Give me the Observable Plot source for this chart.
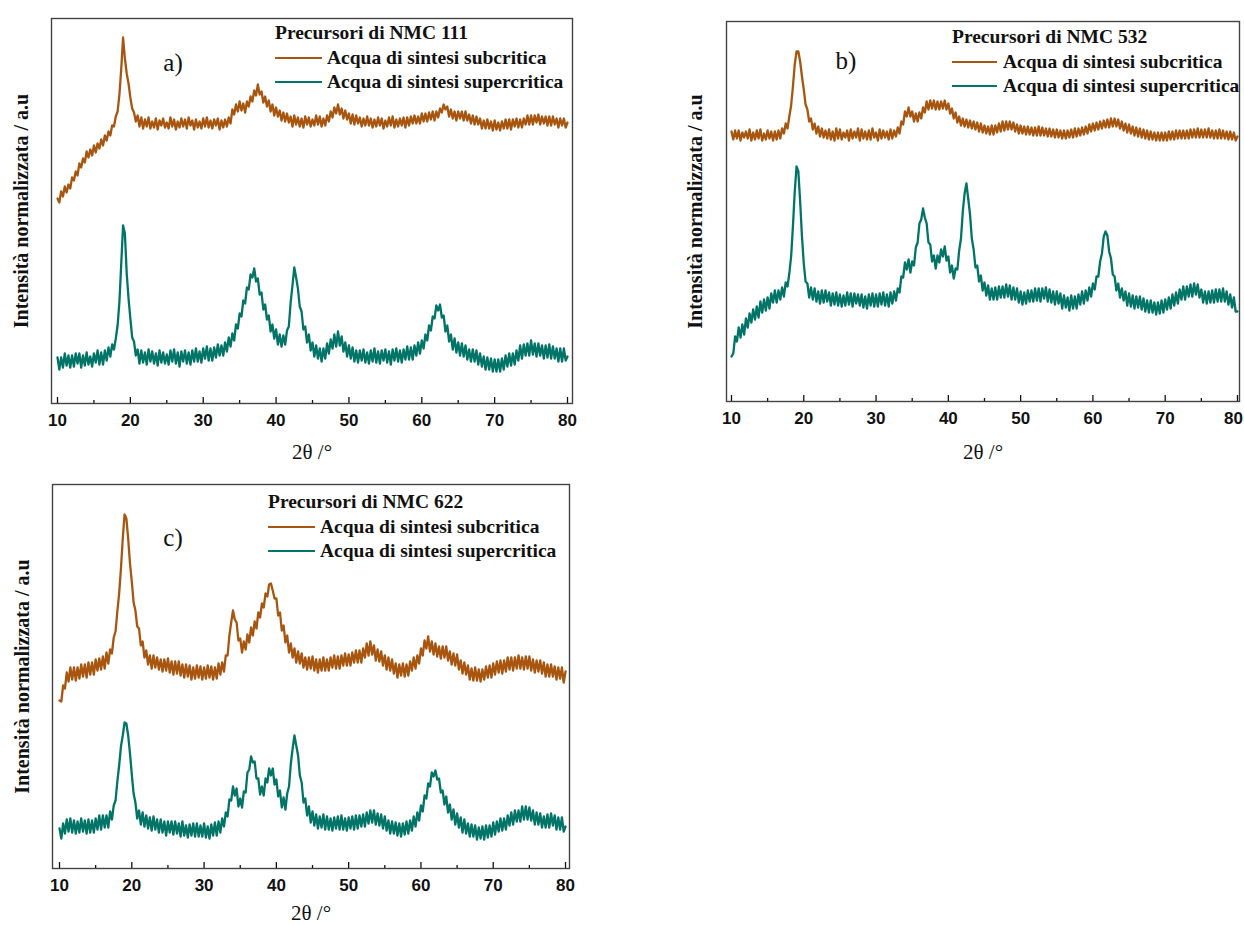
<!DOCTYPE html>
<html>
<head>
<meta charset="utf-8">
<script src="https://cdn.jsdelivr.net/npm/d3@7"></script>
<script src="https://cdn.jsdelivr.net/npm/@observablehq/plot@0.6"></script>
<style>
  html, body { margin: 0; padding: 0; background: #fff; }
  body { width: 1244px; height: 925px; position: relative; overflow: hidden; }
  .panel { position: absolute; }
  .legend {
    position: absolute; white-space: nowrap; color: #111;
    font-family: "Liberation Serif", "Times New Roman", serif;
    font-weight: bold; font-size: 19.5px;
  }
  .legend .row { display: flex; align-items: center; height: 24.5px; }
  .legend .sw { display: inline-block; height: 0; border-top: 2px solid; }
</style>
</head>
<body>
<script>
// Diffractograms sampled from 10° to 80° (2θ) every 0.25°; intensities in arbitrary units.
const twoThetaStart = 10, twoThetaStep = 0.25;

// NMC 111 precursors
const nmc111Sub = [
  205,201,212,207, 217,211,219,215, 226,223,232,228, 240,236,245,241, 252,246,254,248,
  258,251,260,255, 264,258,268,263, 272,268,278,277, 287,292,309,335, 366,345,330,320,
  306,295,291,282, 288,277,286,275, 284,277,286,275, 282,276,285,274, 283,278,285,276,
  281,275,286,277, 284,274,282,276, 285,277,284,275, 286,278,283,274, 284,276,282,275,
  285,277,286,276, 283,275,284,278, 285,274,283,276, 284,277,286,280, 294,289,299,292,
  302,293,300,291, 302,297,307,302, 313,308,319,309, 312,301,307,297, 303,292,299,288,
  296,287,293,283, 291,282,290,281, 287,277,288,279, 286,277,285,276, 287,279,286,277,
  284,278,288,279, 287,277,285,278, 288,282,292,286, 296,290,299,289, 295,285,293,284,
  290,280,289,279, 288,280,286,277, 285,278,287,278, 285,276,284,277, 286,278,285,275,
  283,277,286,278, 287,276,284,277, 285,278,286,276, 286,278,287,280, 288,280,287,280,
  290,282,290,282, 291,284,292,283, 292,286,295,291, 299,294,297,287, 294,285,292,283,
  292,285,292,283, 292,283,289,280, 288,279,287,279, 285,275,283,275, 284,275,282,273,
  283,274,281,273, 282,275,284,275, 284,274,284,277, 285,276,284,276, 285,279,288,279,
  288,279,288,281, 289,279,287,280, 287,278,287,278, 287,279,285,276, 285,278,285,276,
  281
];
const nmc111Sup = [
  46,34,46,36, 50,38,48,36, 48,37,50,40, 50,36,48,38, 51,39,47,37,
  50,41,53,39, 51,39,53,43, 56,47,59,54, 65,78,102,140, 178,170,130,105,
  85,66,62,48, 54,40,53,41, 51,39,54,42, 52,40,50,38, 53,41,51,40,
  49,39,53,42, 54,40,51,37, 52,42,53,40, 51,39,53,42, 55,42,52,41,
  55,45,57,43, 55,43,56,46, 59,48,58,48, 61,52,66,57, 70,63,79,75,
  90,87,103,100, 116,114,129,126, 135,122,125,109, 111,94,99,84, 88,72,79,65,
  74,59,69,57, 68,59,73,77, 101,118,136,126, 115,97,92,74, 77,61,69,53,
  61,47,58,45, 55,42,55,45, 60,50,64,55, 69,57,72,58, 67,52,61,47,
  58,45,56,42, 53,41,53,43, 54,41,51,40, 53,42,55,41, 52,40,53,43,
  54,41,52,39, 54,43,55,42, 53,41,54,44, 57,44,56,44, 58,48,61,50,
  63,55,69,63, 78,73,87,85, 98,93,99,86, 88,72,78,62, 69,54,65,51,
  61,48,60,47, 58,44,54,42, 54,42,53,39, 50,37,47,34, 46,34,45,32,
  44,32,44,32, 45,34,48,37, 50,38,50,39, 53,43,58,45, 59,48,60,48,
  63,49,60,47, 60,48,58,45, 58,46,59,45, 57,45,55,42, 55,42,55,43,
  47
];

// NMC 532 precursors
const nmc532Sub = [
  270,262,271,263, 271,261,269,264, 270,263,272,261, 269,262,271,263, 272,261,268,262,
  271,263,270,261, 270,262,271,263, 273,268,278,273, 285,296,315,337, 350,350,340,325,
  312,297,292,280, 283,272,278,268, 275,265,273,264, 271,263,272,262, 270,261,273,263,
  272,262,269,264, 271,261,272,263, 270,264,273,261, 272,263,270,262, 271,262,273,264,
  269,261,272,263, 271,264,270,262, 272,263,271,265, 274,268,280,277, 290,285,294,285,
  290,280,288,280, 289,283,294,289, 300,292,301,293, 301,292,300,292, 300,293,301,292,
  298,288,293,283, 289,279,285,276, 283,275,282,274, 281,273,280,272, 279,270,278,269,
  276,268,275,267, 276,267,276,269, 278,270,280,271, 280,272,280,272, 279,270,277,268,
  276,268,275,267, 275,267,274,266, 274,266,275,266, 274,266,273,265, 273,265,272,264,
  272,264,271,263, 271,263,271,264, 272,264,273,265, 273,266,274,267, 275,268,277,270,
  278,271,279,272, 280,273,281,274, 282,274,283,275, 283,275,282,273, 280,271,278,269,
  277,268,275,266, 274,265,273,264, 272,263,271,262, 270,262,269,261, 269,261,269,261,
  269,261,270,262, 270,262,271,263, 271,263,271,263, 271,263,272,264, 272,264,273,264,
  272,264,272,264, 273,264,271,263, 271,263,272,263, 271,263,270,262, 270,262,269,261,
  265
];
const nmc532Sup = [
  45,48,65,60, 74,64,77,67, 83,74,88,79, 92,82,95,84, 100,89,102,91,
  104,93,108,99, 111,99,111,102, 114,105,119,115, 128,145,175,210, 235,230,200,165,
  138,120,118,104, 114,102,113,100, 110,98,111,99, 111,100,109,96, 108,97,109,96,
  107,95,106,96, 109,97,108,95, 108,98,107,96, 107,94,105,93, 107,96,108,95,
  107,95,108,97, 109,96,107,95, 109,98,110,101, 113,109,125,124, 139,132,142,129,
  140,136,154,159, 178,182,193,184, 178,159,157,140, 146,133,146,139, 152,145,155,141,
  145,129,136,123, 133,132,151,163, 190,208,218,203, 187,163,152,134, 136,120,126,111,
  119,106,116,102, 113,102,114,102, 115,104,115,104, 117,105,116,102, 114,102,113,99,
  110,97,109,98, 111,100,111,100, 113,101,113,100, 113,103,114,100, 112,99,110,97,
  110,98,108,93, 106,94,104,91, 106,93,105,93, 107,97,110,98, 111,101,114,105,
  118,112,125,125, 140,148,165,170, 166,150,143,127, 125,111,118,104, 113,101,110,96,
  108,95,106,93, 105,94,105,92, 103,90,101,89, 101,89,99,87, 99,88,101,89,
  102,92,104,93, 107,96,109,98, 112,102,115,102, 115,105,117,105, 118,107,117,104,
  112,99,110,98, 110,99,111,99, 112,100,112,100, 113,100,110,97, 107,94,104,90,
  90
];

// NMC 622 precursors
const nmc622Sub = [
  168,167,183,180, 196,187,201,189, 201,188,201,190, 204,192,204,191, 206,194,206,194,
  209,198,210,199, 212,200,216,205, 219,215,231,237, 257,275,300,330, 354,350,330,305,
  287,266,258,242, 240,223,227,211, 218,204,213,200, 213,201,211,199, 209,197,209,198,
  210,196,207,194, 207,195,207,193, 204,191,204,192, 203,189,201,190, 203,191,202,189,
  201,190,203,191, 202,189,201,190, 205,194,206,197, 213,213,233,246, 258,249,246,228,
  230,216,227,219, 234,226,241,233, 247,240,256,251, 265,261,275,272, 284,285,278,270,
  270,253,256,238, 243,226,233,216, 225,211,220,206, 217,205,215,201, 211,199,211,200,
  212,198,209,196, 209,198,211,198, 209,198,211,201, 213,200,212,200, 213,203,215,203,
  214,203,216,206, 218,206,218,206, 220,211,225,213, 227,214,223,208, 219,207,217,203,
  213,199,211,198, 209,195,205,191, 204,193,205,192, 204,193,207,198, 211,200,213,205,
  220,213,228,220, 232,217,227,214, 225,212,222,210, 222,211,222,208, 217,204,215,203,
  214,199,208,195, 206,194,203,189, 200,188,201,188, 199,187,199,189, 202,191,203,191,
  205,194,207,196, 208,195,208,197, 211,199,211,198, 211,200,213,200, 211,199,212,200,
  212,198,209,196, 208,197,208,195, 206,192,204,192, 204,192,202,189, 201,190,201,186,
  197
];
const nmc622Sup = [
  40,30,45,35, 49,37,50,36, 48,35,47,36, 50,37,48,35, 49,36,48,36,
  50,39,53,39, 53,41,53,41, 57,49,63,68, 87,103,122,133, 146,145,133,115,
  94,75,66,50, 58,44,56,42, 53,40,51,38, 52,39,49,36, 49,36,47,33,
  47,36,47,34, 47,35,45,32, 47,33,43,31, 44,33,45,32, 45,32,43,32,
  45,31,42,30, 44,33,46,33, 47,36,50,42, 56,52,69,68, 82,73,80,62,
  70,61,77,76, 96,99,112,106, 107,90,90,74, 82,73,90,86, 100,93,100,84,
  89,72,78,61, 71,59,75,82, 105,120,133,123, 113,93,86,66, 70,53,62,46,
  57,43,54,40, 52,41,54,39, 52,39,50,38, 51,40,52,39, 53,39,50,38,
  51,40,52,39, 53,40,53,42, 54,42,56,45, 58,46,58,44, 55,43,54,40,
  52,38,48,35, 47,35,46,33, 45,32,45,34, 47,35,48,38, 52,42,56,48,
  63,57,73,70, 85,82,96,92, 98,89,90,76, 78,64,72,56, 64,49,59,44,
  55,41,51,36, 49,35,45,32, 44,32,43,29, 41,30,42,29, 43,31,43,32,
  46,34,47,37, 50,38,50,39, 53,43,56,44, 58,47,58,47, 62,49,62,49,
  61,48,58,44, 56,44,55,41, 52,41,54,41, 55,43,53,39, 51,39,51,37,
  42
];

const majorTicks = [10, 20, 30, 40, 50, 60, 70, 80];
const minorTicks = [15, 25, 35, 45, 55, 65, 75];
const seriesLabels = ["Acqua di sintesi subcritica", "Acqua di sintesi supercritica"];
const seriesColors = ["#a8560f", "#007467"];
const yTitle = "Intensità normalizzata / a.u";
const xTitle = "2θ /°";

const SERIF = "'Liberation Serif', 'Times New Roman', serif";
const SANS = "'Liberation Sans', Arial, sans-serif";

const panels = [
  {
    tag: "a)", title: "Precursori di NMC 111", sub: nmc111Sub, sup: nmc111Sup,
    left: 0, top: 0, width: 600, height: 440,
    margin: {top: 18, right: 28, bottom: 37, left: 51},
    xDomain: [9.176, 80.686], yMax: 385,
    tagAt: [121.5, 44], xTitleDy: 49, yTitleDx: -30, lastLabelDx: 0,
    legend: {left: 275, top: 21, swatch: 47, gap: 5}
  },
  {
    tag: "b)", title: "Precursori di NMC 532", sub: nmc532Sub, sup: nmc532Sup,
    left: 680, top: 0, width: 564, height: 440,
    margin: {top: 21, right: 5, bottom: 39, left: 46},
    xDomain: [9.31, 80.28], yMax: 380,
    tagAt: [119.5, 39], xTitleDy: 51, yTitleDx: -31, lastLabelDx: -4,
    legend: {left: 952, top: 25, swatch: 45, gap: 6}
  },
  {
    tag: "c)", title: "Precursori di NMC 622", sub: nmc622Sub, sup: nmc622Sup,
    left: 0, top: 450, width: 600, height: 475,
    margin: {top: 34, right: 31, bottom: 57, left: 52},
    xDomain: [9.03, 80.55], yMax: 384,
    tagAt: [120.5, 53], xTitleDy: 45, yTitleDx: -30, lastLabelDx: 0,
    legend: {left: 268, top: 490, swatch: 47, gap: 5}
  }
];

const toRows = values => values.map((v, i) => ({theta: twoThetaStart + i * twoThetaStep, intensity: v}));

const tickFont = {fontSize: 17, fontWeight: "bold", fontFamily: SANS};

for (const p of panels) {
  const innerTicks = majorTicks.slice(0, -1);
  const lastTick = majorTicks.slice(-1);
  const chart = Plot.plot({
    width: p.width,
    height: p.height,
    marginTop: p.margin.top,
    marginRight: p.margin.right,
    marginBottom: p.margin.bottom,
    marginLeft: p.margin.left,
    style: {background: "transparent", overflow: "visible", color: "#111"},
    x: {domain: p.xDomain},
    y: {domain: [0, p.yMax], axis: null},
    marks: [
      Plot.line(toRows(p.sub), {x: "theta", y: "intensity", stroke: seriesColors[0], strokeWidth: 2.3}),
      Plot.line(toRows(p.sup), {x: "theta", y: "intensity", stroke: seriesColors[1], strokeWidth: 2.3}),
      Plot.frame({stroke: "#444", strokeWidth: 1.4}),
      Plot.axisX({
        ticks: innerTicks, tickSize: -6, tickPadding: 16, label: null,
        tickFormat: d => String(d), ...tickFont, strokeWidth: 1.3
      }),
      // last major tick: its label sits against the right edge of the page on panel b
      Plot.axisX({ticks: lastTick, tickSize: -6, label: null, tickFormat: () => "", strokeWidth: 1.3}),
      Plot.axisX({
        ticks: lastTick, tickSize: 0, tickPadding: 10, label: null,
        tickFormat: d => String(d), dx: p.lastLabelDx, ...tickFont
      }),
      Plot.axisX({
        ticks: minorTicks, tickSize: -3, label: null, tickFormat: () => "", strokeWidth: 1.3
      }),
      Plot.text([xTitle], {
        text: d => d, frameAnchor: "bottom", dy: p.xTitleDy,
        textAnchor: "middle", lineAnchor: "middle",
        fontSize: 21, fontFamily: SERIF, fill: "#111"
      }),
      Plot.text([yTitle], {
        text: d => d, frameAnchor: "left", dx: p.yTitleDx, rotate: -90,
        textAnchor: "middle", lineAnchor: "middle",
        fontSize: 20, fontWeight: "bold", fontFamily: SERIF, fill: "#111"
      }),
      Plot.text([p.tag], {
        text: d => d, frameAnchor: "top-left", dx: p.tagAt[0], dy: p.tagAt[1],
        textAnchor: "middle", lineAnchor: "middle",
        fontSize: 25, fontFamily: SERIF, fill: "#111"
      })
    ]
  });
  const holder = document.createElement("div");
  holder.className = "panel";
  holder.style.left = p.left + "px";
  holder.style.top = p.top + "px";
  holder.appendChild(chart);
  document.body.appendChild(holder);

  // Legend: title row followed by one swatch row per series
  const legend = document.createElement("div");
  legend.className = "legend";
  legend.style.left = p.legend.left + "px";
  legend.style.top = p.legend.top + "px";
  const head = document.createElement("div");
  head.className = "row";
  head.textContent = p.title;
  legend.appendChild(head);
  seriesLabels.forEach((label, k) => {
    const row = document.createElement("div");
    row.className = "row";
    const sw = document.createElement("span");
    sw.className = "sw";
    sw.style.width = p.legend.swatch + "px";
    sw.style.marginRight = p.legend.gap + "px";
    sw.style.borderColor = seriesColors[k];
    row.appendChild(sw);
    row.appendChild(document.createTextNode(label));
    legend.appendChild(row);
  });
  document.body.appendChild(legend);
}
</script>
</body>
</html>
